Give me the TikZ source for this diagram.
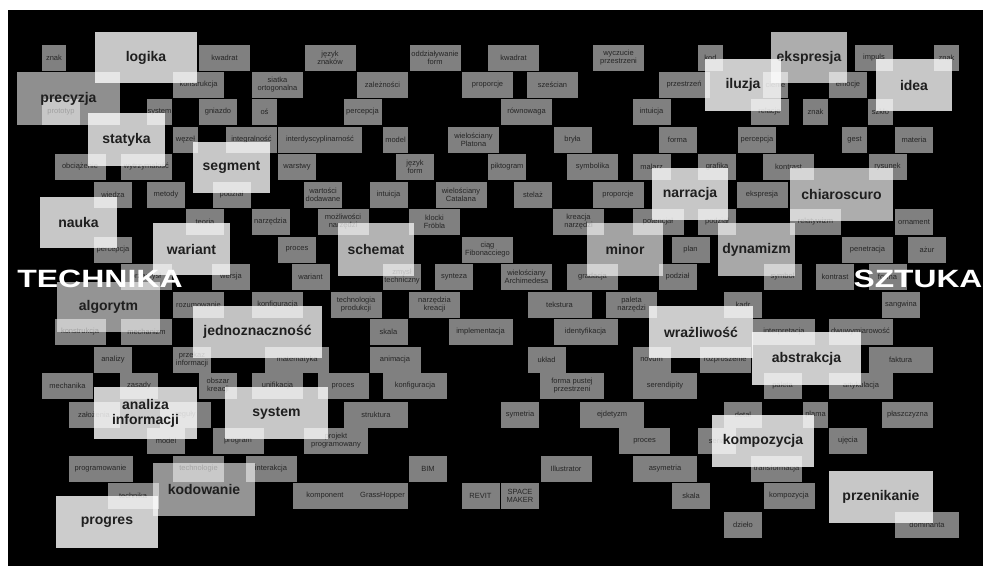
\documentclass[tikz,border=0pt]{standalone}
\usepackage{fontspec}
\setmainfont{Liberation Sans}
\usepackage{graphicx}

\tikzset{
    wordbox/.style={fill=white, fill opacity=0.5, text opacity=1, text=black!85,
        inner sep=0pt, minimum height=26pt, align=center,
        font=\fontsize{7.5}{8}\selectfont},
    keybox/.style={fill=white, text opacity=1, text=black!88,
        inner sep=0pt, align=center, font=\bfseries\fontsize{14}{15}\selectfont},
    headword/.style={text=white, inner sep=0pt,
        font=\bfseries\fontsize{25}{25}\selectfont},
}

\begin{document}
\begin{tikzpicture}[x=1pt, y=-1pt]

% --- Frame ---
\useasboundingbox (0,0) rectangle (983,566);
\fill[white] (0,0) rectangle (983,566);
\fill[black] (8,10) rectangle (983,566);

% --- Small terms (x/y/width/label) ---
\foreach \x/\y/\ww/\lbl [count=\i] in {
    54/57.5/24/znak, 224.5/57.5/51/kwadrat, 330/57.5/51/{język\\znaków},
    435/57.5/51/{oddziaływanie\\form}, 513.5/57.5/51/kwadrat,
    618.5/57.5/51/{wyczucie\\przestrzeni}, 710.5/57.5/25/kod,
    874/57.5/38/impuls, 946.5/57.5/25/znak,
    198.5/85/51/konstrukcja, 277.5/85/51/{siatka\\ortogonalna},
    382.5/85/51/zależności, 487.5/85/51/proporcje, 552.5/85/51/sześcian,
    684/85/51/przestrzeń, 775.5/85/25/cienie, 848/85/38/emocje,
    61/112/38/prototyp, 159.5/112/25/system, 218/112/38/gniazdo,
    264.5/112/25/oś, 362.5/112/38/percepcja, 526.5/112/51/równowaga,
    651.5/112/38/intuicja, 769.5/112/38/relacje, 815.5/112/25/znak,
    880.5/112/25/szkło,
    185.5/140/25/węzeł, 251.5/140/51/integralność,
    320/140/84/interdyscyplinarność, 395.5/140/25/model,
    473.5/140/51/{wielościany\\Platona}, 572.5/140/38/bryła,
    677.5/140/38/forma, 757/140/38/percepcja, 854.5/140/25/gest,
    914/140/38/materia,
    80/167/51/obciążenie, 146.5/167/51/wytrzymałość, 297/167/38/warstwy,
    415/167/38/{język\\form}, 507/167/38/piktogram, 592.5/167/51/symbolika,
    651.5/167/38/malarz, 717/167/38/grafika, 788.5/167/51/kontrast,
    887.5/167/38/rysunek,
    113/195/38/wiedza, 166/195/38/metody, 231.5/195/38/podział,
    323/195/38/{wartości\\dodawane}, 388.5/195/38/intuicja,
    461/195/51/{wielościany\\Catalana}, 533/195/38/stelaż,
    618/195/51/proporcje, 762/195/51/ekspresja,
    205/222/38/teoria, 270.5/222/38/narzędzia,
    343/222/51/{możliwości\\narzędzi}, 434.5/222/51/{klocki\\Fröbla},
    578.5/222/51/{kreacja\\narzędzi}, 658/222/51/potencjał,
    717/222/38/podział, 815.5/222/51/relatywizm, 914/222/38/ornament,
    113/249.5/38/percepcja, 297/249.5/38/proces,
    487.5/249.5/51/{ciąg\\Fibonacciego}, 690.5/249.5/38/plan,
    867.5/249.5/51/penetracja, 927/249.5/38/ażur,
    146/277/51/przemysł, 231/277/38/wersja, 310.5/277/38/wariant,
    402/277/38/{zmysł\\techniczny}, 454/277/38/synteza,
    526.5/277/51/{wielościany\\Archimedesa}, 592.5/277/51/gradacja,
    677.5/277/38/podział, 782.5/277/38/symbol, 835/277/38/kontrast,
    887.5/277/38/forma,
    198.5/305/51/rozumowanie, 277.5/305/51/konfiguracja,
    356/305/51/{technologia\\produkcji}, 434.5/305/51/{narzędzia\\kreacji},
    559.5/305/64/tekstura, 631.5/305/51/{paleta\\narzędzi},
    743/305/38/kadr, 901/305/38/sangwina,
    80/332/51/konstrukcja, 146.5/332/51/mechanizm, 388.5/332/38/skala,
    480.5/332/64/implementacja, 585.5/332/64/identyfikacja,
    784/332/62/interpretacja, 860.5/332/64/dwuwymiarowość,
    113/360/38/analizy, 192/360/38/{przekaz\\informacji},
    297/360/64/matematyka, 395/360/51/animacja, 546.5/360/38/układ,
    651.5/360/38/novum, 725/360/51/rozproszenie, 900.5/360/64/faktura,
    67.5/386/51/mechanika, 139/386/38/zasady, 218/386/38/{obszar\\kreacji},
    277.5/386/51/unifikacja, 343/386/51/proces, 415/386/64/konfiguracja,
    572/386/64/{forma pustej\\przestrzeni}, 665/386/64/serendipity,
    782.5/386/38/paleta, 861/386/64/artykulacja,
    94/414.5/51/założenia, 185.5/414.5/51/reguły, 376/414.5/64/struktura,
    520/414.5/38/symetria, 612/414.5/64/ejdetyzm, 743/414.5/38/detal,
    815.5/414.5/25/plama, 907.5/414.5/51/płaszczyzna,
    166/441/38/model, 238/441/51/program,
    336/441/64/{projekt\\programowany}, 644.5/441/51/proces,
    717/441/38/seria, 848/441/38/ujęcia,
    100.5/469/64/programowanie, 198.5/469/51/technologie,
    271/469/51/interakcja, 428/469/38/BIM, 566/469/51/Illustrator,
    665/469/64/asymetria, 776.5/469/51/transformacja,
    133/496/51/technika, 325/496/64/komponent, 382.5/496/51/GrassHopper,
    480.5/496/38/REVIT, 520/496/38/{SPACE\\MAKER}, 691/496/38/skala,
    789/496/51/kompozycja,
    743/524.5/38/dzieło, 927/524.5/64/dominanta}
    \node[wordbox, minimum width=\ww pt] (word\i) at (\x,\y) {\lbl};

% --- Key terms (x/y/width/height/opacity/label) ---
\foreach \x/\y/\ww/\hh/\op/\lbl [count=\i] in {
    68.5/98.5/103/53/0.56/precyzja, 146/57.5/102/51/0.78/logika,
    126.5/139.5/77/53/0.78/statyka, 231.5/167.5/77/51/0.78/segment,
    78.5/222.5/77/51/0.78/nauka, 191.5/249/77/52/0.78/wariant,
    108.5/307/103/50/0.58/algorytm, 257.5/332/129/52/0.76/jednoznaczność,
    376/249.5/76/53/0.7/schemat, 145.5/413/103/52/0.8/{analiza\\informacji},
    276.5/413/103/52/0.78/system, 204/489.5/102/53/0.58/kodowanie,
    107/522/102/52/0.8/progres, 625/249.5/76/53/0.64/minor,
    690/194/76/52/0.78/narracja, 756.5/249.5/77/53/0.66/dynamizm,
    841.5/194.5/103/53/0.68/chiaroscuro, 809/57.5/76/51/0.68/ekspresja,
    743/85/76/52/0.8/iluzja, 914/85/76/52/0.78/idea,
    701/332/104/52/0.8/wrażliwość, 806.5/358.5/109/53/0.8/abstrakcja,
    763/441/102/52/0.8/kompozycja, 881/497/104/52/0.78/przenikanie}
    \node[keybox, fill opacity=\op, minimum width=\ww pt, minimum height=\hh pt]
        (key\i) at (\x,\y) {\lbl};

% --- Poles ---
\node[headword] (technika) at (100,279) {\scalebox{1.28}[1]{TECHNIKA}};
\node[headword] (sztuka) at (918,279) {\scalebox{1.27}[1]{SZTUKA}};

\end{tikzpicture}
\end{document}
